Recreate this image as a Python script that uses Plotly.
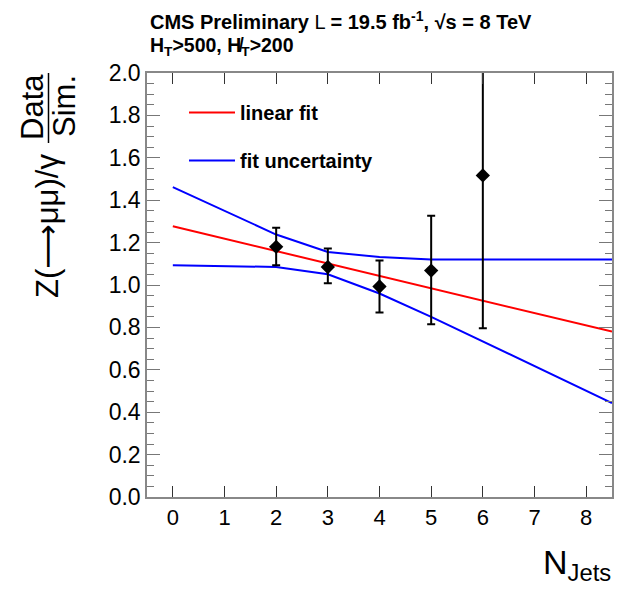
import plotly.graph_objects as go

# Measured ratio per jet multiplicity
njets = [2, 3, 4, 5, 6]
ratio = [1.180, 1.085, 0.993, 1.068, 1.517]
err_up = [0.090, 0.087, 0.122, 0.259, 0.490]
err_dn = [0.087, 0.077, 0.123, 0.253, 0.721]

# Linear fit
fit_x = [0, 8.5]
fit_y = [1.277, 0.780]

# Fit uncertainty envelope
band_x = [0, 1, 2, 3, 4, 5, 6, 7, 8, 8.5]
band_hi = [1.462, 1.350, 1.238, 1.156, 1.132, 1.120, 1.120, 1.120, 1.120, 1.120]
band_lo = [1.093, 1.090, 1.085, 1.051, 0.960, 0.850, 0.734, 0.618, 0.500, 0.443]

x_ticks = [0, 1, 2, 3, 4, 5, 6, 7, 8]
y_ticks = [0.0, 0.2, 0.4, 0.6, 0.8, 1.0, 1.2, 1.4, 1.6, 1.8, 2.0]

FONT = "Liberation Sans, Arial, sans-serif"
W, H = 625, 591
L, R, T, B = 147, 13, 73, 94
PW, PH = W - L - R, H - T - B


def px(x):
    return (x - L) / PW


def py(y):
    return (H - B - y) / PH


fig = go.Figure()

fig.add_trace(go.Scatter(
    x=fit_x, y=fit_y, mode="lines", name="linear fit",
    line=dict(color="#ff0000", width=2), legendgroup="a",
))
fig.add_trace(go.Scatter(
    x=band_x, y=band_hi, mode="lines", name="fit uncertainty",
    line=dict(color="#0000ff", width=2), legendgroup="b",
))
fig.add_trace(go.Scatter(
    x=band_x, y=band_lo, mode="lines", name="fit uncertainty",
    line=dict(color="#0000ff", width=2), legendgroup="b", showlegend=False,
))
fig.add_trace(go.Scatter(
    x=njets, y=ratio, mode="markers", showlegend=False,
    marker=dict(symbol="diamond", size=11, color="black"),
    error_y=dict(type="data", symmetric=False, array=err_up, arrayminus=err_dn,
                 color="black", thickness=2, width=4),
))

annotations = [
    dict(text="<b>CMS Preliminary</b> L <b>= 19.5 fb<sup>-1</sup>, √s = 8 TeV</b>",
         x=px(148), y=py(21), xanchor="left", yanchor="middle",
         font=dict(size=20, color="black")),
    dict(text="<b>H<sub>T</sub>>500, H̸<sub>T</sub>>200</b>",
         x=px(148), y=py(46), xanchor="left", yanchor="middle",
         font=dict(size=19.5, color="black")),
    dict(text="Z(<span style='font-family:DejaVu Sans'>⟶</span>μμ)/γ", textangle=-90,
         x=px(47), y=py(226),
         xanchor="center", yanchor="middle", font=dict(size=31, color="black")),
    dict(text="Data", textangle=-90, x=px(32), y=py(107),
         xanchor="center", yanchor="middle", font=dict(size=31, color="black")),
    dict(text="Sim.", textangle=-90, x=px(64), y=py(106),
         xanchor="center", yanchor="middle", font=dict(size=31, color="black")),
    dict(text="N<sub>Jets</sub>", x=px(613), y=py(564),
         xanchor="right", yanchor="middle", font=dict(size=34, color="black")),
]
for a in annotations:
    a.update(xref="paper", yref="paper", showarrow=False)

fig.update_layout(
    width=W, height=H,
    margin=dict(l=L, r=R, t=T, b=B, pad=0),
    paper_bgcolor="white", plot_bgcolor="white",
    font=dict(family=FONT, color="black"),
    annotations=annotations,
    shapes=[dict(type="line", xref="paper", yref="paper",
                 x0=px(48.5), x1=px(48.5), y0=py(73), y1=py(143),
                 line=dict(color="black", width=1.5))],
    showlegend=True,
    legend=dict(x=px(184), y=py(93), xanchor="left", yanchor="top",
                bgcolor="rgba(0,0,0,0)", traceorder="grouped", tracegroupgap=19,
                itemwidth=46,
                font=dict(size=20, family=FONT, color="black", weight="bold")),
    xaxis=dict(
        range=[-0.5, 8.5], tickvals=x_ticks, ticktext=[str(v) for v in x_ticks],
        ticks="inside", ticklen=11, tickwidth=1, tickcolor="#333",
        showline=True, linecolor="#888", linewidth=2, mirror="ticks",
        showgrid=False, zeroline=False,
        tickfont=dict(size=22, family=FONT, color="black"),
    ),
    yaxis=dict(
        range=[0, 2.0], tickvals=y_ticks, ticktext=[f"{v:.1f}" for v in y_ticks],
        ticks="inside", ticklen=13, tickwidth=1, tickcolor="#777",
        minor=dict(dtick=0.05, ticks="inside", ticklen=7, tickcolor="#777", tickwidth=1),
        showline=True, linecolor="#888", linewidth=1.5, mirror="ticks",
        showgrid=False, zeroline=False,
        tickfont=dict(size=23, family=FONT, color="black"),
    ),
)

fig.write_html("out.html")
